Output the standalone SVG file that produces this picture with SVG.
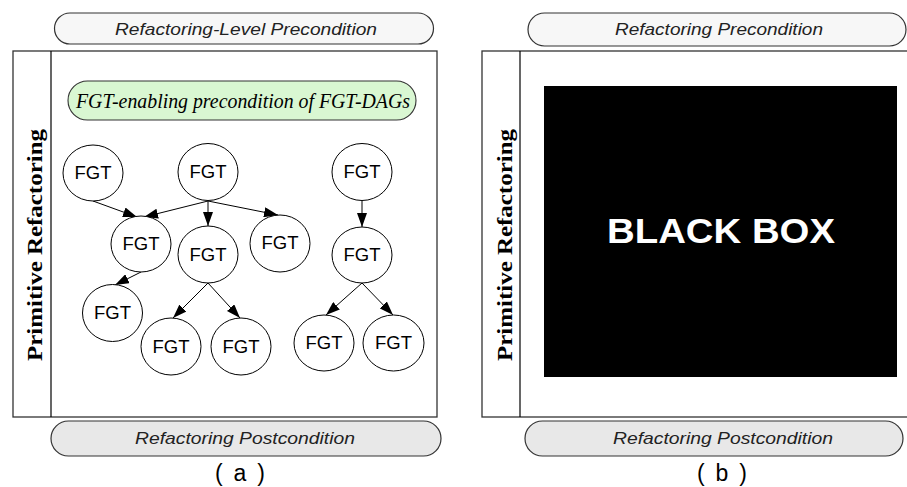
<svg xmlns="http://www.w3.org/2000/svg" width="907" height="487" viewBox="0 0 907 487">
  <style>
    .pill { stroke: #333; stroke-width: 1.2; }
    .pill-top { fill: #f7f7f7; }
    .pill-bot { fill: #e8e8e8; }
    .frame { fill: #fff; stroke: #333; stroke-width: 1.3; }
    .label { font-family: "Liberation Sans", Arial, sans-serif; font-style: italic; font-size: 17px; fill: #222; text-anchor: middle; }
    .side { font-family: "Liberation Serif", "Times New Roman", serif; font-weight: bold; font-size: 20px; fill: #000; text-anchor: middle; }
    .node ellipse { fill: #fff; stroke: #000; stroke-width: 1; }
    .node text { font-family: "Liberation Sans", Arial, sans-serif; font-size: 18.5px; fill: #000; text-anchor: middle; }
    .edge { stroke: #000; stroke-width: 1; fill: none; marker-end: url(#arrow); }
    .caption { font-family: "Liberation Sans", Arial, sans-serif; font-size: 23px; fill: #000; text-anchor: middle; }
  </style>
  <defs>
    <marker id="arrow" viewBox="0 0 14 10" refX="14" refY="5" markerWidth="14" markerHeight="10" markerUnits="userSpaceOnUse" orient="auto">
      <path d="M0,0 L14,5 L0,10 z" fill="#000"/>
    </marker>
  </defs>
  <rect width="907" height="487" fill="#fff"/>

  <!-- Panel (a) -->
  <g id="panel-a">
    <rect class="pill pill-top" x="54.5" y="13" width="379" height="31" rx="15.5"/>
    <text class="label" x="246" y="35" textLength="262" lengthAdjust="spacingAndGlyphs">Refactoring-Level Precondition</text>
    <rect class="frame" x="13" y="51" width="424" height="366"/>
    <line x1="51" y1="51" x2="51" y2="417" stroke="#000" stroke-width="1.2"/>
    <text class="side" transform="translate(42,245) rotate(-90)" textLength="232" lengthAdjust="spacingAndGlyphs">Primitive Refactoring</text>
    <rect class="pill pill-bot" x="51" y="421" width="390" height="35" rx="17.5"/>
    <text class="label" x="245" y="444" textLength="220" lengthAdjust="spacingAndGlyphs">Refactoring Postcondition</text>
    <text class="caption" x="240" y="481" textLength="50" lengthAdjust="spacing">( a )</text>
  </g>

  <g id="dag-precondition">
    <rect x="68" y="81" width="348" height="39" rx="19.5" fill="#d9f7d2" stroke="#333" stroke-width="1.1"/>
    <text x="243" y="108" font-family="'Liberation Serif', 'Times New Roman', serif" font-style="italic" font-size="20" fill="#000" text-anchor="middle" textLength="334" lengthAdjust="spacingAndGlyphs">FGT-enabling precondition of FGT-DAGs</text>
  </g>

  <!-- Connectors between FGT nodes -->
  <g id="connectors">
    <line class="edge" x1="93" y1="201" x2="137" y2="217"/>
    <line class="edge" x1="208" y1="201" x2="144" y2="217"/>
    <line class="edge" x1="208" y1="201" x2="208" y2="226"/>
    <line class="edge" x1="208" y1="201" x2="278" y2="215"/>
    <line class="edge" x1="362" y1="201" x2="362" y2="227"/>
    <line class="edge" x1="141" y1="272" x2="115" y2="285"/>
    <line class="edge" x1="208" y1="283" x2="173" y2="318"/>
    <line class="edge" x1="208" y1="283" x2="240" y2="318"/>
    <line class="edge" x1="362" y1="283" x2="326" y2="315"/>
    <line class="edge" x1="362" y1="283" x2="393" y2="315"/>
  </g>

  <g id="fgt-1" class="node"><ellipse cx="93" cy="173" rx="30" ry="28"/><text x="93" y="179">FGT</text></g>
  <g id="fgt-2" class="node"><ellipse cx="208" cy="172" rx="30" ry="28.5"/><text x="208" y="178">FGT</text></g>
  <g id="fgt-3" class="node"><ellipse cx="362" cy="172" rx="30" ry="28.5"/><text x="362" y="178">FGT</text></g>
  <g id="fgt-4" class="node"><ellipse cx="141" cy="244" rx="30" ry="28"/><text x="141" y="250">FGT</text></g>
  <g id="fgt-5" class="node"><ellipse cx="208" cy="254.5" rx="30" ry="28.5"/><text x="208" y="261">FGT</text></g>
  <g id="fgt-6" class="node"><ellipse cx="280" cy="243.5" rx="30" ry="28.5"/><text x="280" y="249">FGT</text></g>
  <g id="fgt-7" class="node"><ellipse cx="362" cy="255" rx="30" ry="28"/><text x="362" y="261">FGT</text></g>
  <g id="fgt-8" class="node"><ellipse cx="112.5" cy="313" rx="30" ry="28.5"/><text x="112.5" y="319">FGT</text></g>
  <g id="fgt-9" class="node"><ellipse cx="171" cy="346.5" rx="30" ry="28.5"/><text x="171" y="353">FGT</text></g>
  <g id="fgt-10" class="node"><ellipse cx="241" cy="346.5" rx="30" ry="28.5"/><text x="241" y="353">FGT</text></g>
  <g id="fgt-11" class="node"><ellipse cx="324" cy="343" rx="30" ry="28"/><text x="324" y="349">FGT</text></g>
  <g id="fgt-12" class="node"><ellipse cx="393.5" cy="343" rx="30.5" ry="28"/><text x="393.5" y="349">FGT</text></g>

  <!-- Panel (b) -->
  <g id="panel-b">
    <rect class="pill pill-top" x="528" y="13" width="378" height="33" rx="16.5"/>
    <text class="label" x="719" y="35" textLength="208" lengthAdjust="spacingAndGlyphs">Refactoring Precondition</text>
    <rect class="frame" x="482" y="51" width="430" height="366"/>
    <line x1="520" y1="51" x2="520" y2="417" stroke="#000" stroke-width="1.2"/>
    <text class="side" transform="translate(512,245) rotate(-90)" textLength="232" lengthAdjust="spacingAndGlyphs">Primitive Refactoring</text>
    <rect class="pill pill-bot" x="525" y="421" width="378" height="35" rx="17.5"/>
    <text class="label" x="723" y="444" textLength="220" lengthAdjust="spacingAndGlyphs">Refactoring Postcondition</text>
    <text class="caption" x="722" y="481" textLength="50" lengthAdjust="spacing">( b )</text>
  </g>

  <g id="black-box">
    <rect x="544" y="86" width="353" height="291" fill="#000"/>
    <text x="721" y="243" font-family="'Liberation Sans', Arial, sans-serif" font-weight="bold" font-size="35" fill="#fff" text-anchor="middle" textLength="228" lengthAdjust="spacingAndGlyphs">BLACK BOX</text>
  </g>
</svg>
